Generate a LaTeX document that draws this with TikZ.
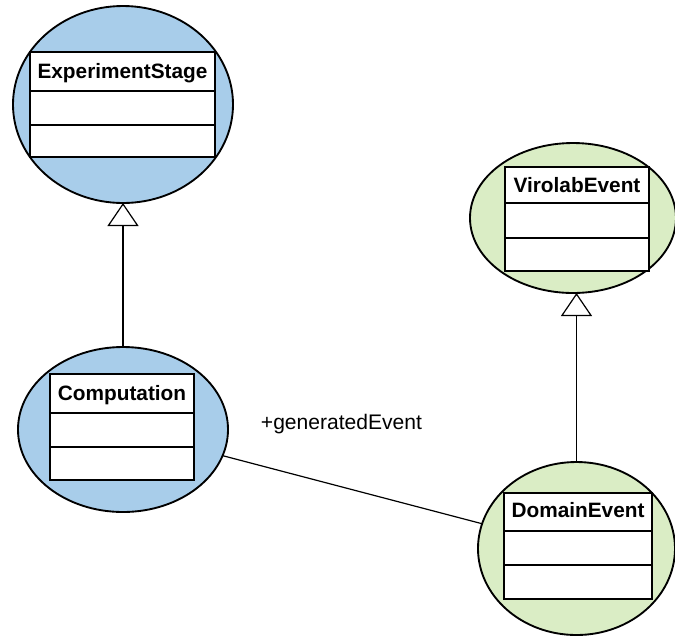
\documentclass[tikz,border=0pt]{standalone}
\usepackage{fontspec}
\setmainfont{Liberation Sans}
\usetikzlibrary{shapes.geometric,arrows.meta}
\definecolor{bluefill}{RGB}{168,205,234}
\definecolor{greenfill}{RGB}{218,237,197}
\begin{document}
\begin{tikzpicture}[x=0.75pt,y=-0.75pt,
  ell/.style={ellipse, draw=black, line width=1.4pt, inner sep=0pt, outer sep=0pt},
  classbox/.style={draw=black, fill=white, line width=1.5pt, inner sep=0pt, outer sep=0pt},
  divider/.style={line width=1.5pt},
  title/.style={font=\bfseries\fontsize{15.6pt}{18pt}\selectfont, inner sep=0pt, anchor=base},
  assoclabel/.style={font=\fontsize{15.8pt}{18pt}\selectfont, inner sep=0pt, anchor=base},
  conn/.style={line width=0.9pt},
  gen/.style={-{Triangle[open,length=17.25pt,width=23.25pt,fill=white]}, line width=0.9pt}]
\useasboundingbox (0,0) rectangle (675,637);
% ellipses
\node[ell, fill=bluefill, minimum width=165pt, minimum height=147.75pt] (e1) at (123,104.5) {};
\node[ell, fill=greenfill, minimum width=154.5pt, minimum height=112.5pt] (e2) at (573,218) {};
\node[ell, fill=bluefill, minimum width=157.5pt, minimum height=123.75pt] (e3) at (123,429.5) {};
\node[ell, fill=greenfill, minimum width=147.75pt, minimum height=129.75pt] (e4) at (576.5,548.5) {};
% class boxes
\node[classbox, minimum width=138.75pt, minimum height=78.75pt] (b1) at (122.5,104.5) {};
\draw[divider] (b1.west |- 0,91) -- (b1.east |- 0,91);
\draw[divider] (b1.west |- 0,125) -- (b1.east |- 0,125);
\node[title] (t1) at (122.5,78) {ExperimentStage};
\node[classbox, minimum width=108pt, minimum height=78pt] (b2) at (577,219) {};
\draw[divider] (b2.west |- 0,203) -- (b2.east |- 0,203);
\draw[divider] (b2.west |- 0,238) -- (b2.east |- 0,238);
\node[title] (t2) at (577,192) {VirolabEvent};
\node[classbox, minimum width=108pt, minimum height=79.5pt] (b3) at (122,427) {};
\draw[divider] (b3.west |- 0,413) -- (b3.east |- 0,413);
\draw[divider] (b3.west |- 0,447) -- (b3.east |- 0,447);
\node[title] (t3) at (122,400) {Computation};
\node[classbox, minimum width=111pt, minimum height=79.5pt] (b4) at (578,546) {};
\draw[divider] (b4.west |- 0,531) -- (b4.east |- 0,531);
\draw[divider] (b4.west |- 0,565) -- (b4.east |- 0,565);
\node[title] (t4) at (578,517) {DomainEvent};
% connectors
\draw[conn] (e3) -- (e4);
\node[assoclabel] (lbl) at (341.5,429) {+generatedEvent};
\draw[gen] (e3.north) -- (e1.south);
\draw[gen] (e4.north) -- (e4.north |- e2.south);
\end{tikzpicture}
\end{document}
